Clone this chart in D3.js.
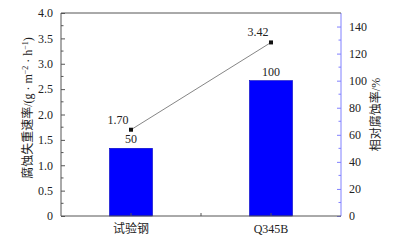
<!DOCTYPE html>
<html>
<head>
<meta charset="utf-8">
<script src="https://cdn.jsdelivr.net/npm/d3@7"></script>
<style>
  body { margin: 0; background: #fff; }
  text { font-family: "Liberation Serif", "Times New Roman", "Noto Sans CJK SC", serif; fill: #222; }
</style>
</head>
<body>
<div id="chart"></div>
<script>
// data
const categories = ["试验钢", "Q345B"];
const rateValues = [1.70, 3.42];      // 腐蚀失重速率, left axis
const relValues = [50, 100];          // 相对腐蚀率, right axis
const leftTicks = [0, 0.5, 1.0, 1.5, 2.0, 2.5, 3.0, 3.5, 4.0];
const rightTicks = [0, 20, 40, 60, 80, 100, 120, 140];

// svg parameters
let width = 396, height = 242;
var margin = { top: 13, right: 55, bottom: 26, left: 61 };
var chartWidth = width - margin.left - margin.right;
var chartHeight = height - margin.top - margin.bottom;

let svg = d3.select("#chart").append("svg")
    .attr("width", width).attr("height", height);

let chartGroup = svg.append("g")
    .attr("transform", `translate(${margin.left}, ${margin.top})`);

// scales
var xScale = d3.scaleBand().domain(categories).range([0, chartWidth]);
var yLeft = d3.scaleLinear().domain([0, 4]).range([chartHeight, 0]);
var yRight = d3.scaleLinear().domain([0, 150]).range([chartHeight, 0]);

// bars
var barW = 43;
chartGroup.selectAll(".bar")
    .data(categories)
    .enter()
    .append("rect")
    .attr("class", "bar")
    .attr("x", d => xScale(d) + xScale.bandwidth() / 2 - barW / 2)
    .attr("y", (d, i) => yRight(relValues[i]))
    .attr("width", barW)
    .attr("height", (d, i) => chartHeight - yRight(relValues[i]))
    .attr("fill", "#0000ff")
    .attr("stroke", "#0000c0")
    .attr("stroke-width", 0.6);

// bar labels
chartGroup.selectAll(".barLabel")
    .data(categories)
    .enter()
    .append("text")
    .attr("x", d => xScale(d) + xScale.bandwidth() / 2)
    .attr("y", (d, i) => yRight(relValues[i]) - 5)
    .attr("text-anchor", "middle")
    .attr("font-size", 12)
    .text((d, i) => relValues[i]);

// line
var line = d3.line()
    .x((d, i) => xScale(categories[i]) + xScale.bandwidth() / 2)
    .y(d => yLeft(d));

chartGroup.append("path")
    .datum(rateValues)
    .attr("d", line)
    .attr("fill", "none")
    .attr("stroke", "#777")
    .attr("stroke-width", 0.9);

chartGroup.selectAll(".pt")
    .data(rateValues)
    .enter()
    .append("rect")
    .attr("x", (d, i) => xScale(categories[i]) + xScale.bandwidth() / 2 - 2)
    .attr("y", d => yLeft(d) - 2)
    .attr("width", 4)
    .attr("height", 4)
    .attr("fill", "#111");

chartGroup.selectAll(".ptLabel")
    .data(rateValues)
    .enter()
    .append("text")
    .attr("x", (d, i) => xScale(categories[i]) + xScale.bandwidth() / 2 - 13)
    .attr("y", d => yLeft(d) - 6)
    .attr("text-anchor", "middle")
    .attr("font-size", 12)
    .text(d => d.toFixed(2));

// left axis (ticks inside)
var leftAxis = d3.axisLeft(yLeft).tickValues(leftTicks)
    .tickFormat(d => d === 0 ? "0" : d3.format(".1f")(d))
    .tickSize(-4).tickPadding(8);
var gl = chartGroup.append("g").call(leftAxis);
gl.selectAll(".tick text").attr("font-size", 12);
gl.selectAll("line, path").attr("stroke", "#555");
gl.select(".domain").attr("d", `M0,0V${chartHeight}`);
// minor ticks
chartGroup.append("g").selectAll("line")
    .data(d3.range(0.25, 4, 0.5))
    .enter().append("line")
    .attr("x1", 0).attr("x2", 2.5)
    .attr("y1", d => yLeft(d)).attr("y2", d => yLeft(d))
    .attr("stroke", "#555");

// right axis (ticks inside)
var rightAxis = d3.axisRight(yRight).tickValues(rightTicks)
    .tickSize(-4).tickPadding(8);
var gr = chartGroup.append("g")
    .attr("transform", `translate(${chartWidth}, 0)`)
    .call(rightAxis);
gr.selectAll(".tick text").attr("font-size", 12);
gr.selectAll("line, path").attr("stroke", "#8080ff");
gr.select(".domain").attr("d", `M0,0V${chartHeight}`);
chartGroup.append("g").selectAll("line")
    .data(d3.range(10, 150, 20))
    .enter().append("line")
    .attr("x1", chartWidth).attr("x2", chartWidth - 2.5)
    .attr("y1", d => yRight(d)).attr("y2", d => yRight(d))
    .attr("stroke", "#8080ff");

// top border
chartGroup.append("line")
    .attr("x1", 0).attr("x2", chartWidth)
    .attr("y1", 0).attr("y2", 0)
    .attr("stroke", "#555");

// bottom axis
var xAxis = d3.axisBottom(xScale).tickSize(0).tickPadding(8);
var gx = chartGroup.append("g")
    .attr("transform", `translate(0, ${chartHeight})`)
    .call(xAxis);
gx.selectAll(".tick text").attr("font-size", 12);
gx.select(".domain").attr("stroke", "#555").attr("d", `M0,0H${chartWidth}`);
// inward ticks at category centers and boundary
chartGroup.append("g").selectAll("line")
    .data([xScale(categories[0]) + xScale.bandwidth() / 2, xScale(categories[1]), xScale(categories[1]) + xScale.bandwidth() / 2])
    .enter().append("line")
    .attr("x1", d => d).attr("x2", d => d)
    .attr("y1", chartHeight).attr("y2", chartHeight - 3)
    .attr("stroke", "#555");

// axis titles
svg.append("text")
    .attr("transform", `translate(32, 108) rotate(-90)`)
    .attr("text-anchor", "middle")
    .attr("font-size", 12)
    .html('腐蚀失重速率/(g · m<tspan baseline-shift="super" font-size="8">−2</tspan> · h<tspan baseline-shift="super" font-size="8">−1</tspan>)');

svg.append("text")
    .attr("transform", `translate(380, ${margin.top + chartHeight / 2}) rotate(-90)`)
    .attr("text-anchor", "middle")
    .attr("font-size", 12)
    .text("相对腐蚀率/%");
</script>
</body>
</html>
